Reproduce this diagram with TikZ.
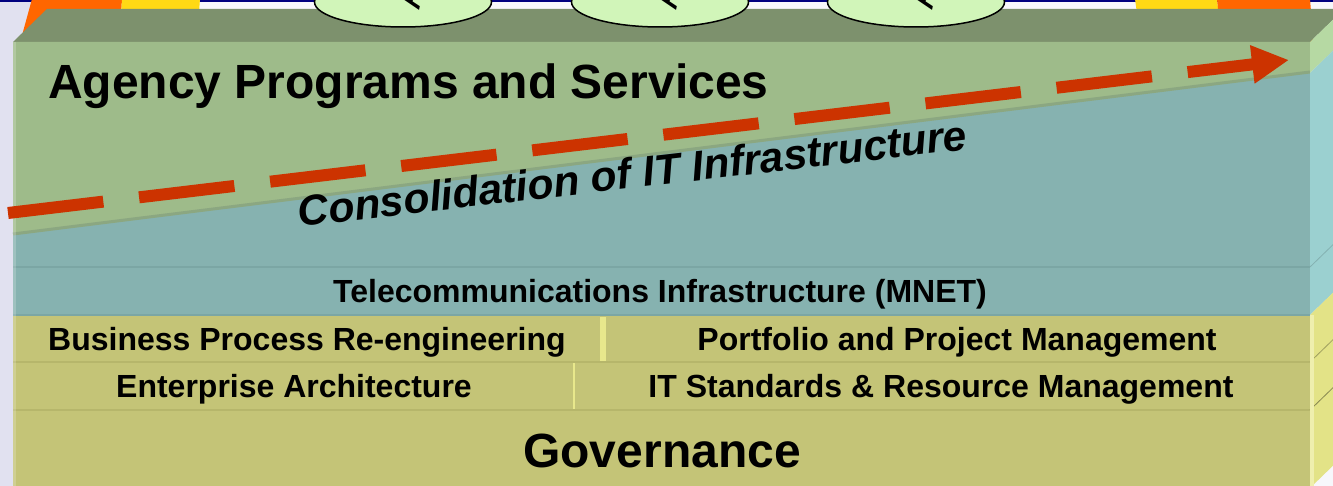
\documentclass[tikz,border=0pt]{standalone}
\usepackage{fontspec}
\setmainfont{Liberation Sans}
\usetikzlibrary{arrows.meta,shapes.geometric,positioning}
\definecolor{navy}{HTML}{00007F}
\definecolor{slide}{HTML}{F7F7FB}
\definecolor{lav}{HTML}{E1E1F0}
\definecolor{orng}{HTML}{FF6600}
\definecolor{yell}{HTML}{FFD914}
\definecolor{topface}{HTML}{7D916D}
\definecolor{green1}{HTML}{9EBB8A}
\definecolor{greenR}{HTML}{B6D9A3}
\definecolor{teal}{HTML}{86B2B0}
\definecolor{tealR}{HTML}{9BD0D0}
\definecolor{tealline}{HTML}{7BA6A4}
\definecolor{yel}{HTML}{C4C477}
\definecolor{yelR}{HTML}{E3E387}
\definecolor{yelline}{HTML}{B6B66B}
\definecolor{lightyel}{HTML}{E8E88C}
\definecolor{capgreen}{HTML}{D1F5B9}
\definecolor{arrowred}{HTML}{CC3300}
\tikzstyle{lbl} = [inner sep=0pt, font=\bfseries\fontsize{32}{34}\selectfont]
\tikzstyle{big} = [inner sep=0pt, font=\bfseries\fontsize{48}{50}\selectfont]
\tikzstyle{cons} = [inner sep=0pt, font=\bfseries\itshape\fontsize{42.5}{44}\selectfont]
\tikzstyle{lid} = [draw=black, line width=1.5pt, fill=capgreen, ellipse, minimum width=177pt, minimum height=50pt]
\tikzstyle{rim} = [line width=2pt]

\begin{document}
\begin{tikzpicture}[x=1pt,y=-1pt]
\useasboundingbox (0,0) rectangle (1333,486);
\clip (0,0) rectangle (1333,486);
\fill[slide] (0,0) rectangle (1333,486);
\fill[lav] (0,0) rectangle (40,486);
\fill[navy] (0,0) rectangle (1333,2.5);

% shapes behind the box
\fill[orng] (32,-1) -- (122,-1) -- (119,50) -- (18,50) -- cycle;
\fill[yell] (122,-1) -- (200,-1) -- (196,50) -- (119,50) -- cycle;
\fill[yell] (1135,-1) -- (1217,-1) -- (1222,50) -- (1142,50) -- cycle;
\fill[orng] (1217,-1) -- (1310,-1) -- (1314,50) -- (1222,50) -- cycle;

% top of the box
\fill[topface] (13,42) -- (47,9) -- (1344,9) -- (1310,42) -- cycle;
\foreach \cx [count=\i] in {403,660,916} {
  \node[lid] (cyl\i) at (\cx,2) {};
  \node[rotate=78, inner sep=0pt, anchor=base west, font=\fontsize{40}{40}\selectfont] (a\i) at (\cx+16,11) {A};
}

% front face
\fill[teal] (13,42) rectangle (1310,315);
\fill[green1] (13,42) -- (1310,42) -- (1310,73) -- (13,235) -- cycle;
\draw[color=green1!85!teal!90!black, line width=3pt] (13,234) -- (1310,72);
\fill[yel] (13,315) rectangle (1310,488);
\draw[rim, tealline] (13,267) -- (1310,267);
\draw[rim, tealline] (13,315) -- (1310,315);
\draw[rim, yelline] (13,362) -- (1310,362);
\draw[rim, yelline] (13,410) -- (1310,410);
\fill[lightyel] (600,317) rectangle (606,361);
\draw[lightyel, line width=2pt] (574,363) -- (574,409);
\fill[white, opacity=0.2] (13,42) rectangle (16,488);

% right face
\fill[greenR] (1310,42) -- (1344,9) -- (1344,40) -- (1310,73) -- cycle;
\fill[tealR] (1310,73) -- (1344,40) -- (1344,282) -- (1310,315) -- cycle;
\fill[yelR] (1310,315) -- (1344,282) -- (1344,455) -- (1310,488) -- cycle;
\draw[tealR!85!black, line width=0.8pt] (1310,267) -- (1344,234);
\draw[yelR!70!black, line width=0.8pt] (1310,362) -- (1344,329);
\draw[yelR!60!black, line width=0.8pt] (1310,410) -- (1344,377);
\fill[lightyel!70!white] (1310,315) rectangle (1314,488);

% labels
\node[big, anchor=base west] (aps) at (48,99) {Agency Programs and Services};
\node[lbl, anchor=base] (tel) at (660,303) {Telecommunications Infrastructure (MNET)};
\node[lbl, anchor=base] (bpr) at (307,350) {Business Process Re-engineering};
\node[lbl, anchor=base] (ppm) at (957,350) {Portfolio and Project Management};
\node[lbl, anchor=base] (ea) at (294,397) {Enterprise Architecture};
\node[lbl, anchor=base] (its) at (941,397) {IT Standards \& Resource Management};
\node[big, anchor=base] (gov) at (662,467) {Governance};
\node[cons, rotate=6.6, anchor=base] (cit) at (634,188) {Consolidation of IT Infrastructure};

% consolidation arrow
\coordinate (from) at (8,213);
\coordinate (to) at (1289,60);
\draw[arrowred, line width=12pt, dash pattern=on 96pt off 36pt,
  -{Triangle[length=37pt,width=36pt]}] (from) -- (to);
\end{tikzpicture}
\end{document}
